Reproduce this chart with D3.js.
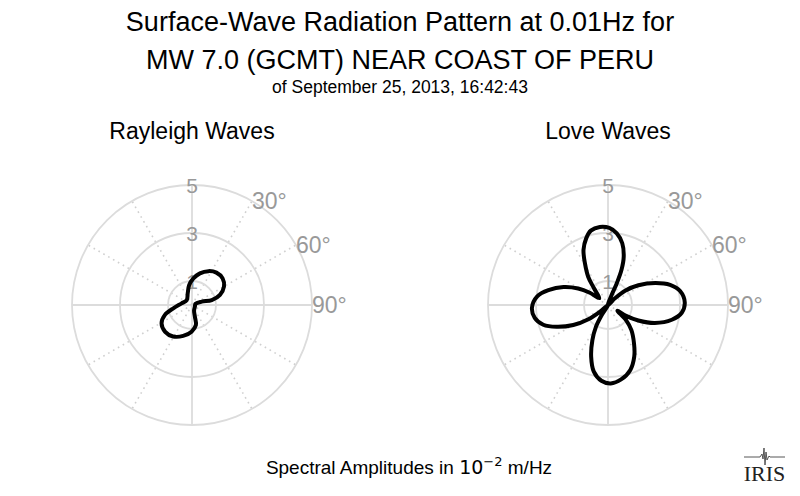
<!DOCTYPE html>
<html>
<head>
<meta charset="utf-8">
<script src="https://cdn.jsdelivr.net/npm/d3@7"></script>
<style>
  body { margin: 0; background: #fff; }
  svg { display: block; font-family: "Liberation Sans", Arial, sans-serif; }
</style>
</head>
<body>
<svg id="chart" width="800" height="496"></svg>
<script>
'use strict';

// azimuth in degrees clockwise from north, amplitude in 10^-2 m/Hz, in drawing order
var rayleighAzimuth = [3, 14, 26, 37, 49, 60, 70, 76, 71, 72, 120, 160, 166, 169, 181, 196, 211, 225, 239, 250, 260, 279, 313, 340, 352];
var rayleighAmplitude = [1.11, 1.36, 1.57, 1.69, 1.69, 1.54, 1.24, 0.85, 0.43, 0.15, 0.14, 0.25, 0.50, 0.85, 1.11, 1.34, 1.53, 1.58, 1.48, 1.20, 0.79, 0.44, 0.30, 0.52, 0.84];

var loveAzimuth = [308, 320, 325, 331, 336, 342, 347, 354, 1, 7, 13, 18, 21, 22, 20, 30,
    46, 50, 57, 65, 72, 79, 88, 96, 103, 111, 117, 121, 121,
    130, 137, 146, 153, 161, 170, 178, 185, 192, 198, 204, 209, 212, 220,
    230, 234, 240, 247, 253, 260, 268, 277, 284, 292, 299, 304];
var loveAmplitude = [0.46, 0.91, 1.44, 1.98, 2.51, 2.93, 3.18, 3.27, 3.21, 3.01, 2.64, 2.12, 1.57, 0.97, 0.44, 0,
    0.40, 0.93, 1.51, 2.17, 2.72, 3.06, 3.20, 3.09, 2.73, 2.09, 1.42, 0.88, 0.46,
    0.98, 1.43, 1.94, 2.41, 2.86, 3.15, 3.27, 3.17, 2.84, 2.27, 1.60, 1.03, 0.49, 0,
    0.43, 1.01, 1.67, 2.33, 2.82, 3.10, 3.17, 2.97, 2.56, 2.00, 1.42, 0.91];

var ringValues = [1, 3, 5];
var angleTicks = [30, 60, 90];
var spokeAngles = d3.range(0, 360, 30);

var titleLines = ['Surface-Wave Radiation Pattern at 0.01Hz for', 'MW 7.0 (GCMT) NEAR COAST OF PERU'];
var subTitle = 'of September 25, 2013, 16:42:43';

var svg = d3.select('#chart');
var rad = function (deg) { return deg * Math.PI / 180; };

var r = d3.scaleLinear().domain([0, 5]).range([0, 120]);

svg.append('rect').attr('width', 800).attr('height', 496).attr('fill', '#fff');

// titles
svg.selectAll('text.title')
    .data(titleLines)
    .enter().append('text')
    .attr('class', 'title')
    .attr('x', 400)
    .attr('y', function (d, i) { return 31 + i * 38; })
    .attr('text-anchor', 'middle')
    .attr('font-size', 27)
    .attr('fill', '#000')
    .text(function (d) { return d; });

svg.append('text')
    .attr('x', 400).attr('y', 93)
    .attr('text-anchor', 'middle')
    .attr('font-size', 17.5)
    .text(subTitle);

var panels = [
    { name: 'Rayleigh Waves', cx: 192, az: rayleighAzimuth, amp: rayleighAmplitude },
    { name: 'Love Waves', cx: 608, az: loveAzimuth, amp: loveAmplitude }
];

var cy = 305;

var pattern = d3.lineRadial()
    .angle(function (d) { return rad(d[0]); })
    .radius(function (d) { return r(d[1]); })
    .curve(d3.curveCatmullRomClosed.alpha(0.5));

panels.forEach(function (p) {
    svg.append('text')
        .attr('x', p.cx).attr('y', 139)
        .attr('text-anchor', 'middle')
        .attr('font-size', 23)
        .text(p.name);

    var g = svg.append('g').attr('transform', 'translate(' + p.cx + ',' + cy + ')');

    //dotted spokes first, solid axes over them
    g.selectAll('line.spoke')
        .data(spokeAngles)
        .enter().append('line')
        .attr('class', 'spoke')
        .attr('x1', 0).attr('y1', 0)
        .attr('x2', function (d) { return r(5) * Math.sin(rad(d)); })
        .attr('y2', function (d) { return -r(5) * Math.cos(rad(d)); })
        .attr('stroke', function (d) { return d % 90 === 0 ? '#dcdcdc' : '#cfcfcf'; })
        .attr('stroke-width', function (d) { return d % 90 === 0 ? 1.8 : 1.6; })
        .attr('stroke-dasharray', function (d) { return d % 90 === 0 ? null : '1.6,4'; });

    g.selectAll('circle.ring')
        .data(ringValues)
        .enter().append('circle')
        .attr('class', 'ring')
        .attr('r', function (d) { return r(d); })
        .attr('fill', 'none')
        .attr('stroke', '#dcdcdc')
        .attr('stroke-width', 1.8);

    g.selectAll('text.rlabel')
        .data(ringValues)
        .enter().append('text')
        .attr('class', 'rlabel')
        .attr('x', 0)
        .attr('y', function (d) { return -r(d); })
        .attr('dy', '0.36em')
        .attr('text-anchor', 'middle')
        .attr('font-size', 21)
        .attr('fill', '#999')
        .text(function (d) { return d; });

    g.selectAll('text.alabel')
        .data(angleTicks)
        .enter().append('text')
        .attr('class', 'alabel')
        .attr('x', function (d) { return r(5) * Math.sin(rad(d)); })
        .attr('y', function (d) { return -r(5) * Math.cos(rad(d)); })
        .attr('dy', '0.36em')
        .attr('font-size', 23)
        .attr('fill', '#999')
        .text(function (d) { return d + '°'; });

    g.append('path')
        .datum(d3.zip(p.az, p.amp))
        .attr('d', pattern)
        .attr('fill', 'none')
        .attr('stroke', '#000')
        .attr('stroke-width', 4)
        .attr('stroke-linejoin', 'round');
});

// footer
var foot = svg.append('text')
    .attr('x', 409).attr('y', 474)
    .attr('text-anchor', 'middle')
    .attr('font-size', 19);
foot.append('tspan').text('Spectral Amplitudes in ');
foot.append('tspan').attr('font-family', 'DejaVu Sans').attr('font-size', 19).text('10');
foot.append('tspan').attr('font-family', 'DejaVu Sans').attr('font-size', 13).attr('dy', -8).text('−2');
foot.append('tspan').attr('dy', 8).text(' m/Hz');

// IRIS logo
var logo = svg.append('g').attr('transform', 'translate(744,457)');
logo.append('path')
    .attr('d', 'M0,0 H16 L18,-3 L19,2 L20,-9 L21,8 L22,-5 L23,3 L25,-1 L26,0 H41')
    .attr('fill', 'none')
    .attr('stroke', '#444')
    .attr('stroke-width', 0.9);
logo.append('text')
    .attr('x', 20.5).attr('y', 24)
    .attr('text-anchor', 'middle')
    .attr('font-family', '"Liberation Serif", "DejaVu Serif", serif')
    .attr('font-size', 22)
    .attr('fill', '#222')
    .text('IRIS');
</script>
</body>
</html>
